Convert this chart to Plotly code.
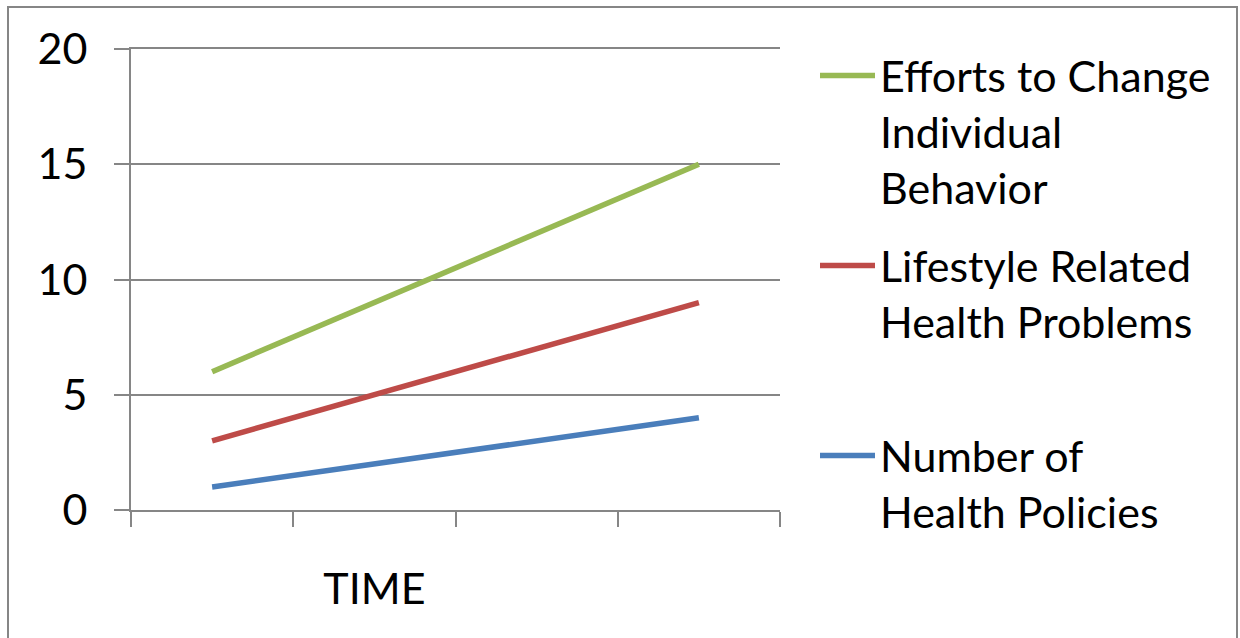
import plotly.graph_objects as go

# Series values per time step
time_labels = ["", "TIME", "", ""]
efforts = [6, 9, 12, 15]
lifestyle = [3, 5, 7, 9]
policies = [1, 2, 3, 4]

series_names = [
    "Efforts to Change<br>Individual<br>Behavior",
    "Lifestyle Related<br>Health Problems",
    "Number of<br>Health Policies",
]
series_colors = ["#98B954", "#BE4B48", "#4A7EBB"]
series_values = [efforts, lifestyle, policies]

FONT = "Lato, Calibri, Carlito, sans-serif"
GRID = "#868686"

x_pos = [i + 0.5 for i in range(len(time_labels))]
legend_ids = ["legend", "legend2", "legend3"]
legend_tops = [41, 231, 421]  # px from top of the figure

fig = go.Figure()
for name, color, vals, lid in zip(series_names, series_colors, series_values, legend_ids):
    fig.add_trace(go.Scatter(
        x=x_pos, y=vals, name=name, mode="lines",
        line=dict(color=color, width=5.5),
        legend=lid,
    ))

legend_style = dict(
    x=815 / 1240, xanchor="left", yanchor="top",
    xref="container", yref="container",
    itemwidth=55, valign="top", font=dict(size=43),
    bgcolor="rgba(0,0,0,0)",
)
legend_layout = {
    lid: dict(legend_style, y=1 - top / 638)
    for lid, top in zip(legend_ids, legend_tops)
}

fig.update_layout(
    width=1240, height=638,
    margin=dict(l=131, r=460, t=49, b=128),
    paper_bgcolor="white", plot_bgcolor="white",
    font=dict(family=FONT, size=43, color="black"),
    showlegend=True,
    **legend_layout,
    xaxis=dict(
        range=[0, len(time_labels)],
        tickmode="array", tickvals=x_pos, ticktext=time_labels,
        ticks="", ticklen=0, ticklabelstandoff=40,
        showgrid=False, showline=True, linecolor=GRID, linewidth=2,
        mirror=True,
        zeroline=False, fixedrange=True,
        minor=dict(tickmode="array", tickvals=list(range(len(time_labels) + 1)),
                   ticks="outside", ticklen=15, tickwidth=2, tickcolor=GRID,
                   showgrid=False),
    ),
    yaxis=dict(
        range=[0, 20], tickmode="linear", tick0=0, dtick=5,
        ticks="outside", ticklen=15, tickwidth=2, tickcolor=GRID,
        showgrid=True, gridcolor=GRID, gridwidth=2,
        showline=True, linecolor=GRID, linewidth=2,
        zeroline=False, ticklabelstandoff=18, fixedrange=True,
    ),
    shapes=[dict(
        type="rect", xref="paper", yref="paper",
        x0=(8 - 131) / 649, x1=(1237 - 131) / 649,
        y0=(510 - 660) / 461, y1=(510 - 7) / 461,
        line=dict(color=GRID, width=2), fillcolor="rgba(0,0,0,0)",
        layer="below",
    )],
)

fig.write_html("out.html")
